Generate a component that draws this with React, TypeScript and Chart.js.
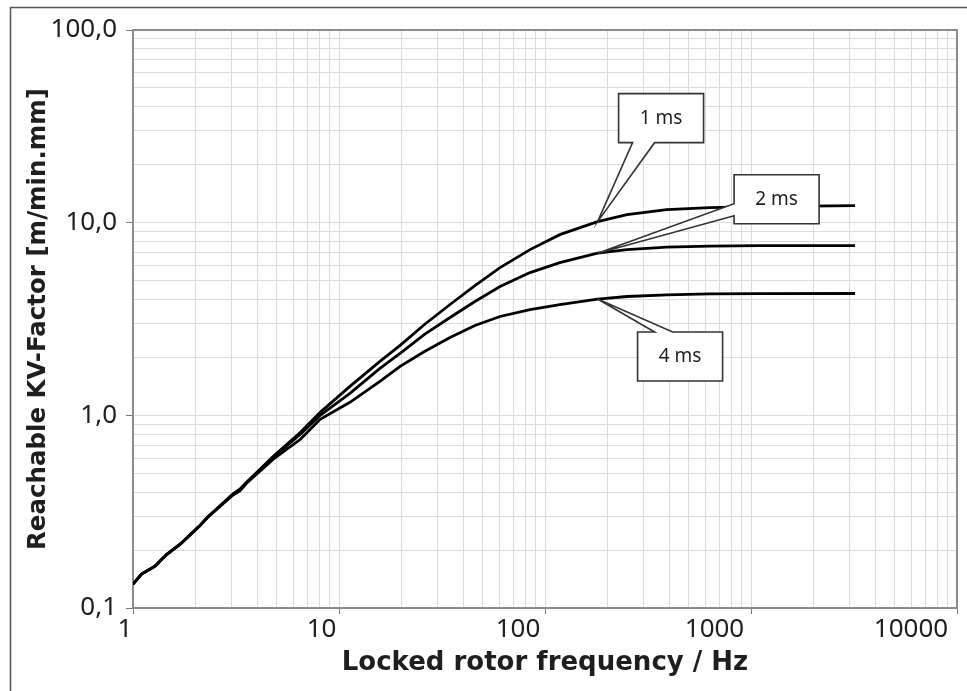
import { useEffect, useRef } from 'react';
import { Chart, registerables } from 'chart.js';

Chart.register(...registerables);

// ---- data ----
const frequencies = [1, 1.1, 1.28, 1.35, 1.46, 1.7, 2.1, 2.3, 3.05, 3.3, 3.6, 4.8, 6.5, 8.1, 11.3, 15.8, 19.8, 26, 34.6, 45.7, 60.5, 84.6, 118, 180, 250, 390, 630, 1100, 3200];
const kv1ms = [0.133, 0.150, 0.165, 0.175, 0.190, 0.215, 0.266, 0.296, 0.390, 0.414, 0.455, 0.613, 0.816, 1.036, 1.413, 1.905, 2.306, 2.962, 3.760, 4.716, 5.846, 7.247, 8.665, 10.12, 11.00, 11.68, 11.96, 12.11, 12.25];
const kv2ms = [0.133, 0.150, 0.165, 0.175, 0.190, 0.215, 0.266, 0.296, 0.388, 0.411, 0.452, 0.606, 0.797, 1.0, 1.30, 1.752, 2.095, 2.629, 3.219, 3.896, 4.660, 5.508, 6.205, 6.94, 7.247, 7.457, 7.55, 7.60, 7.60];
const kv4ms = [0.133, 0.150, 0.165, 0.175, 0.190, 0.215, 0.266, 0.295, 0.385, 0.405, 0.450, 0.592, 0.751, 0.953, 1.168, 1.50, 1.794, 2.146, 2.536, 2.927, 3.258, 3.541, 3.760, 4.015, 4.137, 4.216, 4.272, 4.287, 4.29];
const seriesLabels = ['1 ms', '2 ms', '4 ms'];

const xTickLabels = ['1', '10', '100', '1000', '10000'];
const yTickValues = [0.1, 1, 10, 100];
const yTickLabels = ['0,1', '1,0', '10,0', '100,0'];

const X_MIN = 1, X_MAX = 10000, Y_MIN = 0.1, Y_MAX = 100;
const multipliers = [1, 2, 3, 4, 5, 6, 7, 8, 9];
const xGrid = [1, 10, 100, 1000].flatMap((d) => multipliers.map((m) => m * d)).concat([10000]);
const yGrid = [0.1, 1, 10].flatMap((d) => multipliers.map((m) => m * d)).concat([100]);

const isMajor = (v: number) => Math.abs(Math.log10(v) - Math.round(Math.log10(v))) < 1e-9;

const TICK_FONT = { family: '"Noto Sans", sans-serif', size: 26 };
const TITLE_FAMILY = '"DejaVu Sans", sans-serif';
const TEXT = '#1e1e1e';
const GRID = '#dcdcdc';

// callouts: attached to a point of a series; box offset in pixels from the tip
const callouts = [
  { series: 0, point: 23, dx: 63.5, dy: -103.5, side: 'bottom', b1: -28.5, b2: -6.5 },
  { series: 1, point: 23, dx: 179, dy: -54, side: 'left', b1: 4.5, b2: 16.5 },
  { series: 2, point: 23, dx: 82.5, dy: 57.5, side: 'top', b1: -25.5, b2: -7.5 },
];

const framePlugin = {
  id: 'frames',
  beforeDraw(chart: any) {
    const ctx = chart.ctx;
    ctx.save();
    ctx.fillStyle = '#ffffff';
    ctx.fillRect(0, 0, chart.width, chart.height);
    ctx.strokeStyle = '#555555';
    ctx.lineWidth = 1.5;
    ctx.strokeRect(10.5, 7.5, chart.width + 40, chart.height + 40);
    ctx.restore();
  },
  beforeDatasetsDraw(chart: any) {
    const ctx = chart.ctx;
    const { left, top, right, bottom } = chart.chartArea;
    ctx.save();
    ctx.strokeStyle = '#8c8c8c';
    ctx.lineWidth = 2;
    ctx.strokeRect(left, top, right - left, bottom - top);
    ctx.restore();
  },
  afterDatasetsDraw(chart: any) {
    const ctx = chart.ctx;
    const w = 85, h = 49;
    ctx.save();
    callouts.forEach((c) => {
      const meta = chart.getDatasetMeta(c.series);
      const pt = meta.data[c.point];
      const tx = pt.x, ty = pt.y;
      const cx = tx + c.dx, cy = ty + c.dy;
      const l = cx - w / 2, r = cx + w / 2, t = cy - h / 2, b = cy + h / 2;
      ctx.beginPath();
      ctx.moveTo(l, t);
      if (c.side === 'top') { ctx.lineTo(cx + c.b1, t); ctx.lineTo(tx, ty); ctx.lineTo(cx + c.b2, t); }
      ctx.lineTo(r, t);
      ctx.lineTo(r, b);
      if (c.side === 'bottom') { ctx.lineTo(cx + c.b2, b); ctx.lineTo(tx, ty); ctx.lineTo(cx + c.b1, b); }
      ctx.lineTo(l, b);
      if (c.side === 'left') { ctx.lineTo(l, cy + c.b2); ctx.lineTo(tx, ty); ctx.lineTo(l, cy + c.b1); }
      ctx.closePath();
      ctx.fillStyle = '#ffffff';
      ctx.fill();
      ctx.strokeStyle = '#333333';
      ctx.lineWidth = 1.6;
      ctx.lineJoin = 'miter';
      ctx.stroke();
      ctx.fillStyle = TEXT;
      ctx.font = '19px "Noto Sans", sans-serif';
      ctx.textAlign = 'center';
      ctx.textBaseline = 'middle';
      ctx.fillText(seriesLabels[c.series], cx, cy);
    });
    ctx.restore();
  },
};

export default function App() {
  const ref = useRef<HTMLCanvasElement>(null);
  useEffect(() => {
    const series = [kv1ms, kv2ms, kv4ms];
    const chart = new Chart(ref.current!, {
      type: 'line',
      data: {
        datasets: series.map((vals, s) => ({
          label: seriesLabels[s],
          data: frequencies.map((f, i) => ({ x: f, y: vals[i] })),
          borderColor: '#000000',
          borderWidth: 2.8,
          pointRadius: 0,
          tension: 0,
          fill: false,
          xAxisID: 'x',
          yAxisID: 'y',
        })),
      },
      options: {
        responsive: false,
        animation: false,
        events: [],
        layout: { padding: { top: 30, right: 10, bottom: 0, left: 0 } },
        plugins: { legend: { display: false }, tooltip: { enabled: false } },
        scales: {
          x: {
            type: 'logarithmic',
            position: 'bottom',
            weight: 0,
            min: X_MIN,
            max: X_MAX,
            afterBuildTicks: (scale: any) => { scale.ticks = xGrid.map((v) => ({ value: v })); },
            afterFit: (scale: any) => { scale.height = 6; },
            ticks: { display: false },
            grid: {
              color: GRID,
              lineWidth: 1,
              drawTicks: true,
              tickLength: 6,
              tickWidth: 1,
              tickColor: (ctx: any) => (ctx.tick && isMajor(ctx.tick.value) ? '#7a7a7a' : 'rgba(0,0,0,0)'),
            },
            border: { display: false },
          },
          // label axis: the reference prints its decade labels on an even
          // spacing that is slightly tighter than the gridline decades
          xl: {
            type: 'linear',
            position: 'bottom',
            weight: 1,
            bounds: 'data',
            min: 0.0407,
            max: 4.2341,
            afterBuildTicks: (scale: any) => { scale.ticks = xTickLabels.map((_, i) => ({ value: i })); },
            afterFit: (scale: any) => { scale.height = 77; },
            grid: { display: false, drawTicks: false },
            border: { display: false },
            ticks: {
              autoSkip: false,
              maxRotation: 0,
              padding: 0,
              font: TICK_FONT,
              color: TEXT,
              callback: (v: any) => xTickLabels[Math.round(Number(v))] ?? '',
            },
            title: {
              display: true,
              text: 'Locked rotor frequency / Hz',
              font: { family: TITLE_FAMILY, size: 26, weight: 'bold' },
              color: TEXT,
              padding: { top: 0, bottom: 12.5 },
            },
          },
          y: {
            type: 'logarithmic',
            position: 'left',
            min: Y_MIN,
            max: Y_MAX,
            afterBuildTicks: (scale: any) => { scale.ticks = yGrid.map((v) => ({ value: v })); },
            afterFit: (scale: any) => { scale.width = 133; },
            ticks: {
              autoSkip: false,
              padding: 9,
              font: TICK_FONT,
              color: TEXT,
              callback: (v: any) => {
                const i = yTickValues.findIndex((t) => Math.abs(t - Number(v)) < t * 1e-6);
                return i >= 0 ? yTickLabels[i] : '';
              },
            },
            grid: {
              color: GRID,
              lineWidth: 1,
              drawTicks: true,
              tickLength: 7,
              tickWidth: 1,
              tickColor: (ctx: any) => (ctx.tick && isMajor(ctx.tick.value) ? '#7a7a7a' : 'rgba(0,0,0,0)'),
            },
            border: { display: false },
            title: {
              display: true,
              text: 'Reachable KV-Factor [m/min.mm]',
              font: { family: TITLE_FAMILY, size: 24.5, weight: 'bold' },
              color: TEXT,
              padding: { top: 24.3, bottom: 0 },
            },
          },
        },
      } as any,
      plugins: [framePlugin],
    });
    return () => chart.destroy();
  }, []);
  return (
    <div style={{ position: 'fixed', left: 0, top: 0, width: 967, height: 691, background: '#fff' }}>
      <canvas ref={ref} width={967} height={691} style={{ display: 'block' }} />
    </div>
  );
}
